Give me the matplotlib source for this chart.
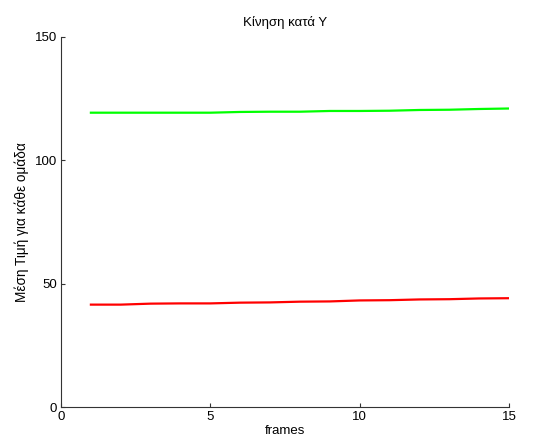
import matplotlib
matplotlib.use('Agg')
import matplotlib.pyplot as plt

plt.rcParams['font.family'] = ['Liberation Sans', 'DejaVu Sans']

frames = list(range(1, 16))
# mean Y of each group per frame
group_green = [119.3, 119.3, 119.3, 119.3, 119.3, 119.6, 119.7, 119.7,
               120.0, 120.0, 120.1, 120.4, 120.5, 120.8, 121.0]
group_red = [41.5, 41.5, 41.9, 42.0, 42.0, 42.3, 42.4, 42.7,
             42.8, 43.2, 43.3, 43.6, 43.7, 44.0, 44.1]

fig = plt.figure(figsize=(5.45, 4.48), dpi=100)
ax = fig.add_axes([0.112, 0.0915, 0.822, 0.826])

ax.plot(frames, group_red, color='#ff0000', linewidth=1.6)
ax.plot(frames, group_green, color='#00ff00', linewidth=1.6)

ax.set_xlim(0, 15)
ax.set_ylim(0, 150)
ax.set_xticks([0, 5, 10, 15])
ax.set_yticks([0, 50, 100, 150])

for side in ('top', 'right'):
    ax.spines[side].set_visible(False)
for side in ('left', 'bottom'):
    ax.spines[side].set_color('#333333')
    ax.spines[side].set_linewidth(0.8)
ax.tick_params(direction='in', length=3, labelsize=9.5, colors='#333333',
               labelcolor='black', pad=3)

ax.set_title('Κίνηση κατά Υ', fontsize=9.5, pad=8)
ax.set_xlabel('frames', fontsize=9.5, labelpad=1)
ax.set_ylabel('Μέση Τιμή για κάθε ομάδα', fontsize=9.8, labelpad=4)

fig.savefig('out.png', dpi=100)
